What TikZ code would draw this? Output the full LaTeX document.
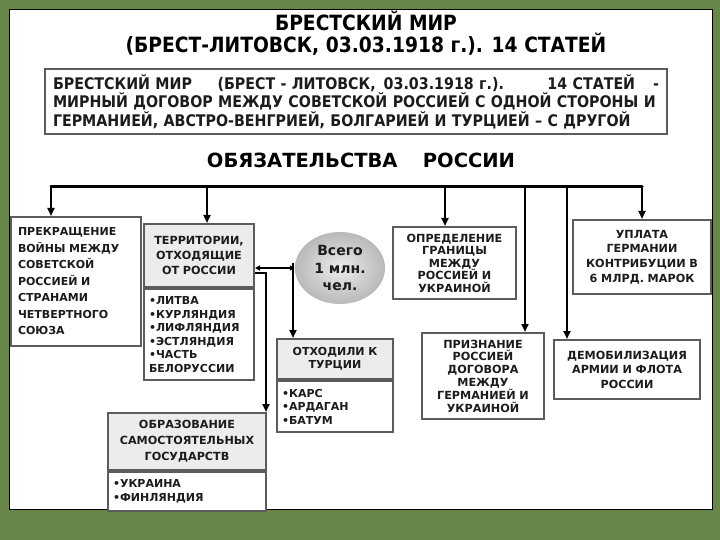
\documentclass[tikz,border=0pt]{standalone}
\usepackage{fontspec}
\setmainfont{DejaVu Sans}
\newfontfamily\narrowfont{DejaVu Sans}[FakeStretch=0.89]
\usetikzlibrary{arrows.meta,shapes.geometric}
\definecolor{bggreen}{RGB}{104,134,72}
\definecolor{framegray}{RGB}{92,92,92}
\definecolor{headgray}{RGB}{236,236,236}
\definecolor{inkgray}{RGB}{28,28,28}
\tikzset{
    box/.style={draw=framegray, line width=2pt, fill=white, text=inkgray, inner sep=0pt, anchor=north west, align=center, font=\bfseries\fontsize{11.2}{13}\selectfont}, % рамка блока
    head/.style={box, fill=headgray}, % заголовок блока
    list/.style={box, align=left, inner xsep=5pt}, % список под заголовком
    sz/.style n args={3}{minimum width=#1, minimum height=#2, text width=#3}, % размеры блока
    bus/.style={line width=3pt, line cap=round},
    arr/.style={line width=2.5pt, -{Triangle[length=8pt, width=7pt]}},
    dbl/.style={line width=1.5pt, {Triangle[length=5pt, width=5pt]}-{Triangle[length=5pt, width=5pt]}}
}
\begin{document}
\begin{tikzpicture}[x=1pt, y=-1pt]
    \useasboundingbox (0,0) rectangle (720,540);
    \fill[bggreen] (0,0) rectangle (720,540);
    \filldraw[fill=white, draw=black, line width=1pt] (9,10) rectangle (712,509);

    % заголовки
    \node[align=center, text=black, font=\narrowfont\bfseries\fontsize{21}{22}\selectfont] (title) at (366,33) {БРЕСТСКИЙ МИР\\(БРЕСТ-ЛИТОВСК, 03.03.1918 г.). 14 СТАТЕЙ};
    \node[box, sz={622}{65}{606}, align=left, inner xsep=8pt, font=\narrowfont\bfseries\fontsize{16}{18.5}\selectfont] (intro) at (44,68) {БРЕСТСКИЙ МИР\hspace{0pt plus 1fill}(БРЕСТ - ЛИТОВСК,\hspace{0.5em}03.03.1918 г.).\hspace{0pt plus 1.7fill}14 СТАТЕЙ\hspace{0pt plus 0.7fill}-\\
        МИРНЫЙ ДОГОВОР МЕЖДУ СОВЕТСКОЙ РОССИЕЙ С ОДНОЙ СТОРОНЫ И\\
        ГЕРМАНИЕЙ, АВСТРО-ВЕНГРИЕЙ, БОЛГАРИЕЙ И ТУРЦИЕЙ – С ДРУГОЙ};
    \node[text=black, font=\bfseries\fontsize{19.5}{20}\selectfont] (oblig) at (361,160) {ОБЯЗАТЕЛЬСТВА\hspace{1.3em}РОССИИ};

    % блоки
    \node[box, sz={128}{129}{116}, align=left, inner xsep=7pt, font=\bfseries\fontsize{11}{16.5}\selectfont] (stop) at (10,216) {ПРЕКРАЩЕНИЕ\\ВОЙНЫ МЕЖДУ\\СОВЕТСКОЙ\\РОССИЕЙ И\\СТРАНАМИ\\ЧЕТВЕРТНОГО\\СОЮЗА};
    \node[head, sz={110}{63}{106}, font=\bfseries\fontsize{11.2}{15}\selectfont] (terrhead) at (143,223) {ТЕРРИТОРИИ,\\ОТХОДЯЩИЕ\\ОТ РОССИИ};
    \node[list, sz={110}{91}{100}, font=\bfseries\fontsize{11}{13.5}\selectfont] (terrlist) at (terrhead.south west) {•ЛИТВА\\•КУРЛЯНДИЯ\\•ЛИФЛЯНДИЯ\\•ЭСТЛЯНДИЯ\\•ЧАСТЬ\\БЕЛОРУССИИ};
    \node[ellipse, minimum width=90, minimum height=72, inner sep=0pt, shading=radial, inner color=gray!15, outer color=gray!55, align=center, text=inkgray, font=\bfseries\fontsize{14}{17.5}\selectfont] (ell) at (340,268) {Всего\\1 млн.\\чел.};
    \node[head, sz={116}{40}{112}, font=\bfseries\fontsize{11}{13.5}\selectfont] (turkhead) at (276,338) {ОТХОДИЛИ К\\ТУРЦИИ};
    \node[list, sz={116}{51}{106}, font=\bfseries\fontsize{11}{13.5}\selectfont] (turklist) at (turkhead.south west) {•КАРС\\•АРДАГАН\\•БАТУМ};
    \node[head, sz={158}{57}{154}, font=\bfseries\fontsize{11.2}{16}\selectfont] (obrhead) at (107,412) {ОБРАЗОВАНИЕ\\САМОСТОЯТЕЛЬНЫХ\\ГОСУДАРСТВ};
    \node[list, sz={158}{39}{148}, font=\bfseries\fontsize{11}{13.5}\selectfont] (obrlist) at (obrhead.south west) {•УКРАИНА\\•ФИНЛЯНДИЯ};
    \node[box, sz={123}{72}{119}, font=\bfseries\fontsize{11.2}{12.5}\selectfont] (border) at (392,226) {ОПРЕДЕЛЕНИЕ\\ГРАНИЦЫ\\МЕЖДУ\\РОССИЕЙ И\\УКРАИНОЙ};
    \node[box, sz={138}{74}{134}, font=\bfseries\fontsize{11.2}{14.7}\selectfont] (pay) at (572,219) {УПЛАТА\\ГЕРМАНИИ\\КОНТРИБУЦИИ В\\6 МЛРД. МАРОК};
    \node[box, sz={122}{86}{118}, font=\bfseries\fontsize{11.2}{12.8}\selectfont] (recog) at (421,332) {ПРИЗНАНИЕ\\РОССИЕЙ\\ДОГОВОРА\\МЕЖДУ\\ГЕРМАНИЕЙ И\\УКРАИНОЙ};
    \node[box, sz={146}{59}{142}, font=\bfseries\fontsize{11.2}{14.5}\selectfont] (demob) at (553,339) {ДЕМОБИЛИЗАЦИЯ\\АРМИИ И ФЛОТА\\РОССИИ};

    % стрелки от общей шины
    \coordinate (b1) at (51,187);
    \coordinate (b2) at (207,187);
    \coordinate (b3) at (445,187);
    \coordinate (b4) at (525,187);
    \coordinate (b5) at (567,187);
    \coordinate (b6) at (642,187);
    \draw[bus] (b1) -- (b6);
    \foreach \c/\n in {b1/stop, b2/terrhead, b3/border, b4/recog, b5/demob, b6/pay} {\draw[arr] (\c) -- (\c |- \n.north);}

    \draw[dbl] (ell.west -| terrhead.east) -- (ell.west);
    \coordinate (tk) at (293,263);
    \draw[arr] (tk) -- (tk |- turkhead.north);
    \draw[arr] ([yshift=-5pt]ell.west -| terrhead.east) -| ([xshift=-1pt]obrhead.north east);
\end{tikzpicture}
\end{document}
